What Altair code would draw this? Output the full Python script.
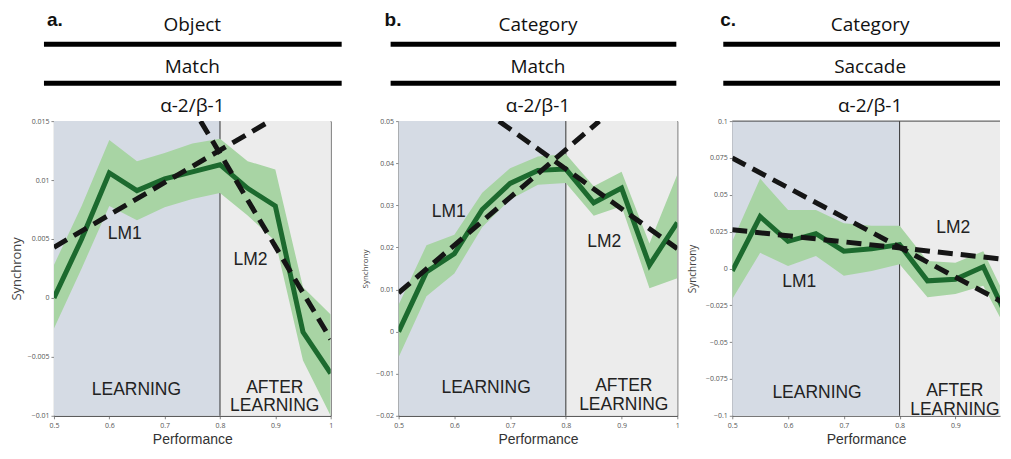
import altair as alt
import pandas as pd

# ---------------- data ----------------
perf = [0.5, 0.55, 0.6, 0.65, 0.7, 0.75, 0.8, 0.85, 0.9, 0.95, 1.0]

a_mean = [0.0, 0.0050, 0.0106, 0.0091, 0.0101, 0.0107, 0.0113, 0.0093, 0.0078, -0.0029, -0.0064]
a_upper = [0.0028, 0.0078, 0.0134, 0.0116, 0.0123, 0.0131, 0.0135, 0.0116, 0.0109, 0.0009, -0.0014]
a_lower = [-0.0026, 0.0025, 0.0078, 0.0066, 0.0077, 0.0084, 0.0089, 0.0070, 0.0048, -0.0053, -0.0100]

b_mean = [0.0, 0.0142, 0.0185, 0.0290, 0.0352, 0.0383, 0.0386, 0.0306, 0.0341, 0.0158, 0.0259]
b_upper = [0.0064, 0.0205, 0.0230, 0.0330, 0.0388, 0.0416, 0.0422, 0.0345, 0.0380, 0.0209, 0.0373]
b_lower = [-0.0061, 0.0084, 0.0138, 0.0248, 0.0314, 0.0349, 0.0353, 0.0275, 0.0298, 0.0103, 0.0127]

c_mean = [-0.0017, 0.0352, 0.0184, 0.0236, 0.0117, 0.0133, 0.0162, -0.0084, -0.0073, 0.0012, -0.0390]
c_upper = [0.0184, 0.0610, 0.0397, 0.0397, 0.0307, 0.0290, 0.0290, 0.0050, 0.0039, 0.0117, -0.0274]
c_lower = [-0.0207, 0.0106, 0.0017, 0.0084, -0.0050, -0.0017, 0.0028, -0.0196, -0.0173, -0.0117, -0.0475]

# dashed linear fits: (x endpoints, y endpoints)
a_fit1_x, a_fit1_y = [0.5, 0.89], [0.0043, 0.015]
a_fit2_x, a_fit2_y = [0.765, 1.0], [0.015, -0.0035]
b_fit1_x, b_fit1_y = [0.5, 0.86], [0.0092, 0.05]
b_fit2_x, b_fit2_y = [0.68, 1.0], [0.05, 0.0197]
c_fit1_x, c_fit1_y = [0.5, 1.0], [0.075, -0.026]
c_fit2_x, c_fit2_y = [0.5, 1.0], [0.0263, 0.0057]

letters = ["a.", "b.", "c."]
titles = ["Object", "Category", "Category"]
subtitles = ["Match", "Match", "Saccade"]
band_label = "α-2/β-1"

x_ticks = [0.5, 0.6, 0.7, 0.8, 0.9, 1.0]
a_yticks = [0.015, 0.01, 0.005, 0, -0.005, -0.01]
b_yticks = [0.05, 0.04, 0.03, 0.02, 0.01, 0, -0.01, -0.02]
c_yticks = [0.1, 0.075, 0.05, 0.025, 0, -0.025, -0.05, -0.075, -0.1]

learning_x = [0.5, 0.8]
after_x = [0.8, 1.0]

# annotation anchors (data coordinates)
a_lm1, a_lm2 = (0.628, 0.00545), (0.855, 0.0032)
a_learn, a_after = (0.649, -0.0078), (0.899, -0.0076)
b_lm1, b_lm2 = (0.59, 0.0283), (0.869, 0.0212)
b_learn, b_after = (0.657, -0.0135), (0.904, -0.0130)
c_lm1, c_lm2 = (0.62, -0.0095), (0.896, 0.0274)
c_learn, c_after = (0.652, -0.0844), (0.899, -0.0835)

GREEN = "#1c6a2e"
BAND = "#a8d4a4"
LEARN_BG = "#d5dbe4"
AFTER_BG = "#ececec"
H = 295
one = pd.DataFrame({"k": [0]})


def panel(letter, title, sub, mean, upper, lower, fits, ydom, yticks, W, xmax,
          lm1, lm2, learn, after, ytitle_size, ytitle_pad, letter_dx, rule_x0,
          rule_x1, border):
    xs = alt.Scale(domain=[0.5, xmax], nice=False, zero=False)
    ys = alt.Scale(domain=ydom, nice=False, zero=False)
    xax = alt.Axis(values=[v for v in x_ticks if v <= xmax], labelExpr="format(datum.value, '~g')",
                   title="Performance", titleFontSize=14, titleFont="Liberation Sans",
                   titleFontWeight="normal", titleColor="#333", titlePadding=4,
                   labelFontSize=7, labelFont="Open Sans", labelColor="#555",
                   tickSize=3, tickColor="#888", domainColor="#555", labelPadding=3,
                   grid=False, labelFlush=False)
    yax = alt.Axis(values=yticks, labelExpr="format(datum.value, '~g')",
                   title="Synchrony", titleFontSize=ytitle_size, titleFont="Open Sans",
                   titleFontWeight="normal", titleColor="#444", titlePadding=ytitle_pad,
                   labelFontSize=7, labelFont="Open Sans", labelColor="#555",
                   tickSize=3, tickColor="#888", domainColor="#555", labelPadding=2,
                   grid=False)

    def X(f):
        return alt.X(f, type="quantitative", scale=xs, axis=xax)

    def Y(f):
        return alt.Y(f, type="quantitative", scale=ys, axis=yax)

    regions = pd.DataFrame({"x0": [learning_x[0]], "x1": [learning_x[1]],
                            "y0": [ydom[0]], "y1": [ydom[1]]})
    regions2 = pd.DataFrame({"x0": [after_x[0]], "x1": [min(after_x[1], xmax)],
                             "y0": [ydom[0]], "y1": [ydom[1]]})
    bg1 = alt.Chart(regions).mark_rect(fill=LEARN_BG).encode(x=X("x0"), x2="x1", y=Y("y0"), y2="y1")
    bg2 = alt.Chart(regions2).mark_rect(fill=AFTER_BG).encode(x=X("x0"), x2="x1", y=Y("y0"), y2="y1")

    df = pd.DataFrame({"p": perf, "m": mean, "u": upper, "l": lower})
    band = alt.Chart(df).mark_area(color=BAND, opacity=1, clip=True).encode(x=X("p"), y=Y("l"), y2="u")
    vline = alt.Chart(pd.DataFrame({"x": [learning_x[1]]})).mark_rule(color="#333", strokeWidth=1).encode(x=X("x"))
    line = alt.Chart(df).mark_line(color=GREEN, strokeWidth=5, clip=True, strokeJoin="miter").encode(x=X("p"), y=Y("m"))

    rows = []
    for i, (fx, fy) in enumerate(fits):
        for xx, yy in zip(fx, fy):
            rows.append({"fit": i, "x": xx, "y": yy})
    fdf = pd.DataFrame(rows)
    dashed = alt.Chart(fdf).mark_line(color="#151515", strokeWidth=5, strokeDash=[15, 8],
                                      strokeCap="butt", clip=True).encode(
        x=X("x"), y=Y("y"), detail="fit:N")

    ann = pd.DataFrame({
        "x": [lm1[0], lm2[0], learn[0], after[0]],
        "y": [lm1[1], lm2[1], learn[1], after[1]],
        "t": ["LM1", "LM2", "LEARNING", "AFTER\nLEARNING"],
    })
    txt = alt.Chart(ann).mark_text(font="Liberation Sans", fontSize=17.5, color="#222",
                                   lineBreak="\n", lineHeight=19, baseline="middle").encode(
        x=X("x"), y=Y("y"), text="t:N")

    def htext(s, x, y, size, weight="normal", font="Open Sans", align="center"):
        return alt.Chart(one).mark_text(font=font, fontSize=size, fontWeight=weight, color="#111",
                                        align=align, baseline="alphabetic").encode(
            x=alt.value(x), y=alt.value(y), text=alt.value(s))

    def hrule(y):
        return alt.Chart(one).mark_rule(color="#000", strokeWidth=5).encode(
            x=alt.value(rule_x0), x2=alt.value(rule_x1), y=alt.value(y))

    cx = W / 2 if border else 138
    header = [
        htext(letter, letter_dx, -95, 19, "bold", "Liberation Sans", "left"),
        htext(title, cx, -90, 19),
        hrule(-77),
        htext(sub, cx, -48, 19),
        hrule(-38),
        htext(band_label, cx, -9, 19),
    ]
    layers = [bg1, bg2, vline, band, line, dashed, txt] + header
    if not border:
        layers.append(alt.Chart(one).mark_rule(color="#444", strokeWidth=1).encode(
            x=alt.value(0), x2=alt.value(W), y=alt.value(0)))
    ch = alt.layer(*layers).properties(width=W, height=H)
    if border:
        ch = ch.properties(view=alt.ViewBackground(stroke="#555", strokeWidth=1))
    else:
        ch = ch.properties(view=alt.ViewBackground(stroke=None))
    return ch


pa = panel(letters[0], titles[0], subtitles[0], a_mean, a_upper, a_lower,
           [(a_fit1_x, a_fit1_y), (a_fit2_x, a_fit2_y)], [-0.01, 0.015], a_yticks,
           277, 1.0, a_lm1, a_lm2, a_learn, a_after, 13, 4, -7, -10, 288, True)
pb = panel(letters[1], titles[1], subtitles[1], b_mean, b_upper, b_lower,
           [(b_fit1_x, b_fit1_y), (b_fit2_x, b_fit2_y)], [-0.02, 0.05], b_yticks,
           279, 1.0, b_lm1, b_lm2, b_learn, b_after, 8, 6, -14, -8, 278, True)
pc = panel(letters[2], titles[2], subtitles[2], c_mean, c_upper, c_lower,
           [(c_fit1_x, c_fit1_y), (c_fit2_x, c_fit2_y)], [-0.1, 0.1], c_yticks,
           268, 0.98, c_lm1, c_lm2, c_learn, c_after, 10, 8, -12, -9, 268, False)

chart = alt.hconcat(alt.hconcat(pa, pb, spacing=16), pc, spacing=7).properties(
    padding={"left": 1, "top": 2, "right": 0, "bottom": 0}
).configure(background="white")

chart.save("out.html", embed_options={"renderer": "svg", "actions": False})
